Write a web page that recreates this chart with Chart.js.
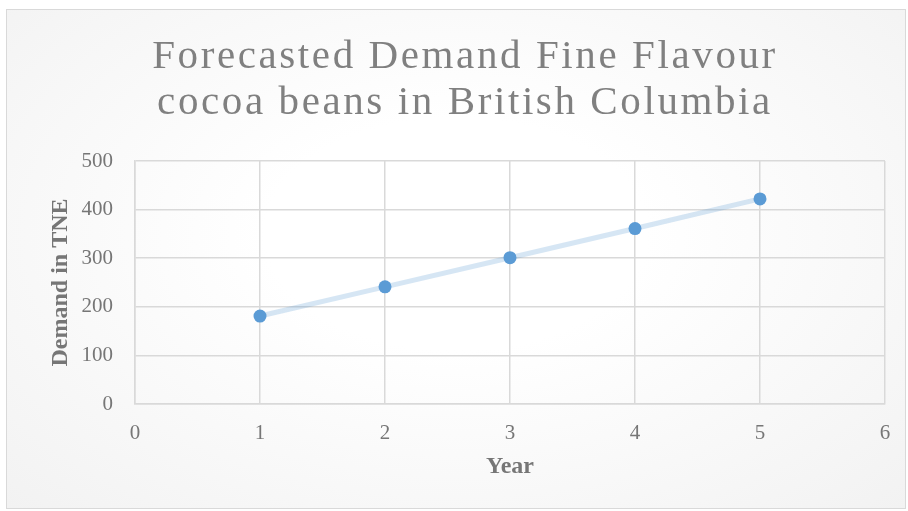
<!DOCTYPE html>
<html>
<head>
<meta charset="utf-8">
<script src="https://cdn.jsdelivr.net/npm/chart.js@4"></script>
<style>
  body { margin: 0; background: #fff; }
  #frame {
    position: absolute; left: 6px; top: 9px; width: 898px; height: 498px;
    border: 1px solid #d9d9d9;
    background: radial-gradient(ellipse at 50% 45%, #ffffff 30%, #f2f2f2 100%);
  }
  #wrap { position: absolute; left: 0; top: 0; width: 908px; height: 511px; }
</style>
</head>
<body>
<div id="frame"></div>
<div id="wrap"><canvas id="myChart" width="908" height="511"></canvas></div>
<script>
// chart data
var titleLines = ['Forecasted Demand Fine Flavour', 'cocoa beans in British Columbia'];
var years = [1, 2, 3, 4, 5];
var demand = [181, 241, 301, 361, 422];
var xLabel = 'Year';
var yLabel = 'Demand in TNE';

var points = years.map(function (y, i) { return { x: y, y: demand[i] }; });

var serif = "'Liberation Serif', 'Times New Roman', serif";
var grey = '#767676';

// title drawn by hand so it can get the wide letter spacing of the original
var spacedTitle = {
    id: 'spacedTitle',
    afterDraw: function (chart) {
        var ctx = chart.ctx;
        ctx.save();
        ctx.font = '41px ' + serif;
        ctx.fillStyle = '#808080';
        ctx.textAlign = 'center';
        ctx.textBaseline = 'middle';
        if ('letterSpacing' in ctx) ctx.letterSpacing = '2.6px';
        titleLines.forEach(function (line, i) {
            ctx.fillText(line, 465, 57 + i * 46);
        });
        ctx.restore();
    }
};

var graficoContainer = document.getElementById('myChart');
var grafico = new Chart(graficoContainer, {
    type: 'scatter',
    data: {
        datasets: [{
            label: 'Demand',
            data: points,
            pointRadius: 6.5,
            pointBackgroundColor: '#5b9bd5',
            pointBorderWidth: 0,
            showLine: false,
            order: 0
        }, {
            label: 'Trend',
            data: points,
            showLine: true,
            borderColor: 'rgba(91,155,213,0.25)',
            borderWidth: 5,
            pointRadius: 0,
            order: 1
        }]
    },
    options: {
        responsive: false,
        animation: false,
        layout: { padding: { left: 46, right: 23, top: 161, bottom: 26 } },
        plugins: {
            legend: { display: false },
            tooltip: { enabled: false },
            title: { display: false }
        },
        scales: {
            x: {
                type: 'linear',
                min: 0, max: 6,
                afterFit: function (scale) { scale.height = 81; },
                ticks: { stepSize: 1, color: grey, font: { family: serif, size: 21 }, padding: 17 },
                grid: { color: '#d9d9d9', lineWidth: 1.5, drawTicks: false },
                border: { color: '#d9d9d9', width: 1.5 },
                title: { display: true, text: xLabel, color: grey, font: { family: serif, size: 24, weight: 'bold' }, padding: 4 }
            },
            y: {
                min: 0, max: 500,
                afterFit: function (scale) { scale.width = 89; },
                ticks: { stepSize: 100, color: grey, font: { family: serif, size: 21 }, padding: 22 },
                grid: { color: '#d9d9d9', lineWidth: 1.5, drawTicks: false },
                border: { color: '#d9d9d9', width: 1.5 },
                title: { display: true, text: yLabel, color: grey, font: { family: serif, size: 24, weight: 'bold' }, padding: 0 }
            }
        }
    },
    plugins: [spacedTitle]
});
</script>
</body>
</html>
